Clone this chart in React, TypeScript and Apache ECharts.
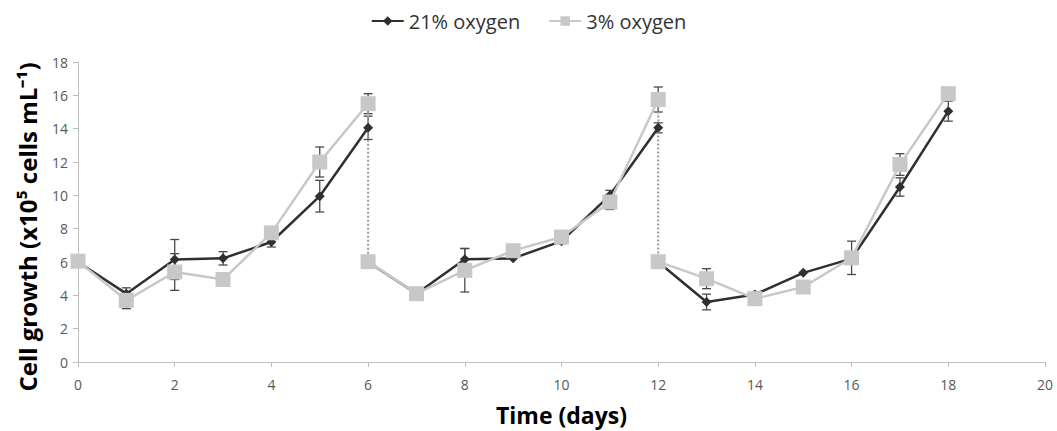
import React, { useEffect, useRef } from "react";
import * as echarts from "echarts";

const cycle1Days = [0, 1, 2, 3, 4, 5, 6];
const cycle2Days = [6, 7, 8, 9, 10, 11, 12];
const cycle3Days = [12, 13, 14, 15, 16, 17, 18];

const o21Cycle1 = [6.0, 4.1, 6.15, 6.22, 7.2, 9.95, 14.05];
const o21Err1 = [0, 0.35, 1.2, 0.4, 0.3, 0.95, 0.7];
const o3Cycle1 = [6.05, 3.7, 5.4, 4.95, 7.75, 12.0, 15.5];
const o3Err1 = [0, 0.5, 1.1, 0, 0, 0.9, 0.6];

const o21Cycle2 = [6.0, 4.1, 6.17, 6.22, 7.25, 10.0, 14.05];
const o21Err2 = [0, 0, 0.65, 0, 0.15, 0.3, 0.3];
const o3Cycle2 = [6.02, 4.1, 5.5, 6.68, 7.5, 9.6, 15.75];
const o3Err2 = [0, 0, 1.3, 0, 0.3, 0.45, 0.75];

const o21Cycle3 = [6.0, 3.6, 4.05, 5.35, 6.2, 10.5, 15.05];
const o21Err3 = [0, 0.47, 0, 0, 0.1, 0.55, 0.6];
const o3Cycle3 = [6.02, 5.0, 3.8, 4.5, 6.25, 11.85, 16.1];
const o3Err3 = [0, 0.6, 0.3, 0.33, 1.0, 0.65, 0];

const xTicks = [0, 2, 4, 6, 8, 10, 12, 14, 16, 18, 20];
const yTicks = [0, 2, 4, 6, 8, 10, 12, 14, 16, 18];

const NAME21 = "21% oxygen";
const NAME3 = "3% oxygen";
const Y_TITLE = "Cell growth (x10\u2075 cells mL\u207B\u00B9)";
const X_TITLE = "Time (days)";
const FONT = "'Open Sans', sans-serif";

const pairs = (days: number[], vals: number[]) => days.map((d, i) => [d, vals[i]]);
const errs = (days: number[], vals: number[], e: number[]) =>
  days.map((d, i) => [d, vals[i] - e[i], vals[i] + e[i]]).filter((_, i) => e[i] > 0);

export default function App() {
  const ref = useRef<HTMLDivElement>(null);
  useEffect(() => {
    if (!ref.current) return;
    document.body.style.margin = "0";
    const chart = echarts.init(ref.current, null, { renderer: "svg" });

    const blackLine = (data: number[][]) => ({
      type: "line",
      name: NAME21,
      data,
      symbol: "diamond",
      symbolSize: 10,
      showSymbol: true,
      lineStyle: { color: "#303030", width: 2.5 },
      itemStyle: { color: "#303030" },
      z: 3,
    });
    const grayLine = (data: number[][]) => ({
      type: "line",
      name: NAME3,
      data,
      symbol: "rect",
      symbolSize: 15,
      lineStyle: { color: "#c8c8c8", width: 2.5 },
      itemStyle: { color: "#c8c8c8" },
      z: 4,
    });
    const dotted = (data: number[][]) => ({
      type: "line",
      name: "drop",
      data,
      symbol: "none",
      lineStyle: { color: "#9a9a9a", width: 2, type: [2, 2] },
      z: 2,
    });
    const errSeries = (data: number[][]) => ({
      type: "custom",
      name: "err",
      data,
      encode: { x: 0, y: [1, 2] },
      z: 2,
      renderItem: (params: any, api: any) => {
        const x = api.value(0);
        const lo = api.coord([x, api.value(1)]);
        const hi = api.coord([x, api.value(2)]);
        const w = 4.5;
        const st = { stroke: "#4a4a4a", lineWidth: 1.3 };
        return {
          type: "group",
          children: [
            { type: "line", shape: { x1: lo[0], y1: lo[1], x2: hi[0], y2: hi[1] }, style: st },
            { type: "line", shape: { x1: lo[0] - w, y1: lo[1], x2: lo[0] + w, y2: lo[1] }, style: st },
            { type: "line", shape: { x1: hi[0] - w, y1: hi[1], x2: hi[0] + w, y2: hi[1] }, style: st },
          ],
        };
      },
    });

    chart.setOption({
      animation: false,
      textStyle: { fontFamily: FONT },
      legend: {
        data: [NAME21, NAME3],
        top: 6,
        left: "center",
        itemWidth: 32,
        itemHeight: 12,
        itemGap: 28,
        textStyle: { fontSize: 20, color: "#333", fontFamily: FONT },
      },
      graphic: [
        {
          type: "text",
          x: 27,
          y: 227,
          rotation: Math.PI / 2,
          style: {
            text: Y_TITLE,
            font: "bold 24px 'Open Sans', sans-serif",
            fill: "#000",
            align: "center",
            verticalAlign: "middle",
            textAlign: "center",
            textVerticalAlign: "middle",
          },
        },
      ],
      grid: { left: 78, right: 12, top: 62, bottom: 69 },
      xAxis: {
        type: "value",
        min: xTicks[0],
        max: xTicks[xTicks.length - 1],
        interval: 2,
        axisLine: { show: true, lineStyle: { color: "#bfbfbf" } },
        axisTick: { show: true, length: 5, lineStyle: { color: "#bfbfbf" } },
        splitLine: { show: false },
        axisLabel: { fontSize: 14, color: "#595959", margin: 15, fontFamily: FONT },
        name: X_TITLE,
        nameLocation: "middle",
        nameGap: 41,
        nameTextStyle: { fontSize: 23, fontWeight: "bold", color: "#000", fontFamily: FONT },
      },
      yAxis: {
        type: "value",
        min: yTicks[0],
        max: yTicks[yTicks.length - 1],
        interval: 2,
        axisLine: { show: true, lineStyle: { color: "#bfbfbf" } },
        axisTick: { show: true, length: 5, lineStyle: { color: "#bfbfbf" } },
        splitLine: { show: false },
        axisLabel: { fontSize: 14, color: "#595959", margin: 10, fontFamily: FONT },
      },
      series: [
        errSeries([
          ...errs(cycle1Days, o21Cycle1, o21Err1),
          ...errs(cycle2Days, o21Cycle2, o21Err2),
          ...errs(cycle3Days, o21Cycle3, o21Err3),
          ...errs(cycle1Days, o3Cycle1, o3Err1),
          ...errs(cycle2Days, o3Cycle2, o3Err2),
          ...errs(cycle3Days, o3Cycle3, o3Err3),
        ]),
        dotted([[cycle1Days[6], o3Cycle1[6]], [cycle2Days[0], o3Cycle2[0]]]),
        dotted([[cycle2Days[6], o3Cycle2[6]], [cycle3Days[0], o3Cycle3[0]]]),
        blackLine(pairs(cycle1Days, o21Cycle1)),
        blackLine(pairs(cycle2Days, o21Cycle2)),
        blackLine(pairs(cycle3Days, o21Cycle3)),
        grayLine(pairs(cycle1Days, o3Cycle1)),
        grayLine(pairs(cycle2Days, o3Cycle2)),
        grayLine(pairs(cycle3Days, o3Cycle3)),
      ],
    });
    return () => chart.dispose();
  }, []);
  return <div ref={ref} style={{ width: 1057, height: 431 }} />;
}
